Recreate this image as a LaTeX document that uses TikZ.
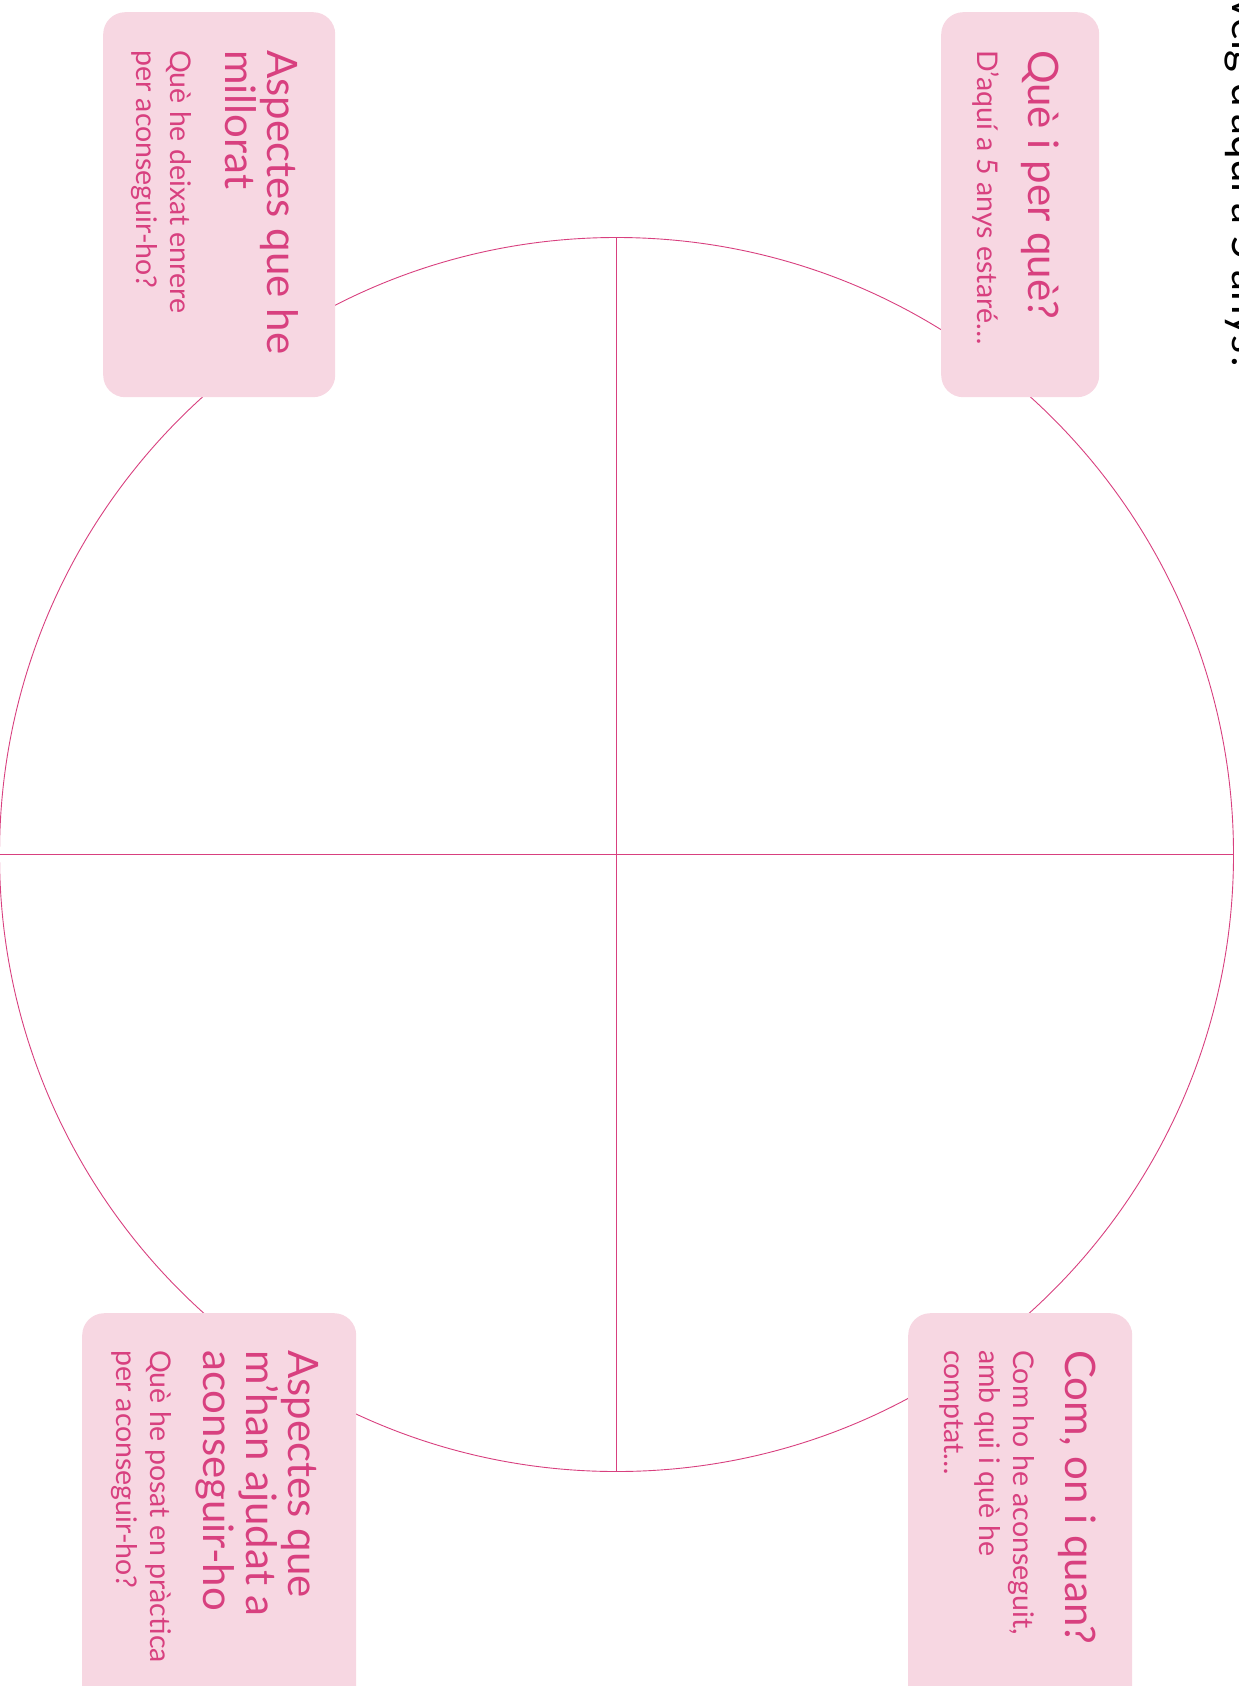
\documentclass[tikz,border=0pt]{standalone}
\usepackage{fontspec}
\setmainfont{Lato}
\definecolor{pinktext}{HTML}{D8407F}
\definecolor{pinkbox}{HTML}{F7D7E2}
\definecolor{pinkline}{HTML}{D8407F}
\begin{document}
\begin{tikzpicture}[x=1pt,y=-1pt,
  box/.style={fill=pinkbox, rounded corners=22pt, inner sep=0pt, anchor=north west},
  head/.style={rotate=-90, anchor=base west, inner sep=0pt, text=pinktext, font=\fontsize{42}{46}\selectfont},
  sub/.style={rotate=-90, anchor=base west, inner sep=0pt, text=pinktext, font=\fontsize{28.5}{32}\selectfont},
  ring/.style={draw=pinkline, line width=0.9pt}]
\useasboundingbox (0,0) rectangle (1239,1686);
\clip (0,0) rectangle (1239,1686);
\node[circle, ring, minimum size=1234pt, inner sep=0pt] (ring) at (616.5,854.5) {};
\draw[ring] (ring.north) -- (ring.south);
\draw[ring] (ring.west) -- (ring.east);
% boxes
\node[box, minimum width=158pt, minimum height=385pt] (trbox) at (941,12) {};
\node[box, minimum width=232pt, minimum height=385pt] (tlbox) at (103,12) {};
\node[box, minimum width=224pt, minimum height=430pt] (brbox) at (908,1313) {};
\node[box, minimum width=274pt, minimum height=430pt] (blbox) at (82,1313) {};
% title
\node[rotate=-90, anchor=base east, inner sep=0pt, font=\fontsize{42}{46}\selectfont] (title) at (1232,372) {Com em veig d’aquí a 5 anys?};
% top right
\node[head] (trh) at (1028,50) {Què i per què?};
\node[sub] (trs) at (977,50) {D’aquí a 5 anys estaré…};
% top left
\node[head] (tlh1) at (267,50) {Aspectes que he};
\node[head] (tlh2) at (225,50) {millorat};
\node[sub] (tls1) at (170,50) {Què he deixat enrere};
\node[sub] (tls2) at (136,50) {per aconseguir-ho?};
% bottom right
\node[head] (brh) at (1065,1350) {Com, on i quan?};
\node[sub] (brs1) at (1013,1350) {Com ho he aconseguit,};
\node[sub] (brs2) at (979,1350) {amb qui i què he};
\node[sub] (brs3) at (944,1350) {comptat…};
% bottom left
\node[head] (blh1) at (288,1350) {Aspectes que};
\node[head] (blh2) at (246,1350) {m’han ajudat a};
\node[head] (blh3) at (203,1350) {aconseguir-ho};
\node[sub] (bls1) at (150,1350) {Què he posat en pràctica};
\node[sub] (bls2) at (116,1350) {per aconseguir-ho?};
\end{tikzpicture}
\end{document}
